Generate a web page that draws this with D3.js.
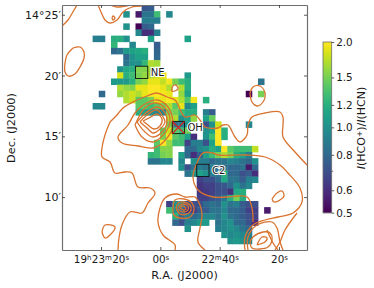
<!DOCTYPE html>
<html lang="en">
<head>
<meta charset="UTF-8">
<title>HCO+/HCN ratio map</title>
<script src="https://d3js.org/d3.v7.min.js"></script>
<style>
  body { margin: 0; background: #fff; }
  text { font-family: "DejaVu Sans", sans-serif; fill: #1a1a1a; }
</style>
</head>
<body>
<svg id="chart" width="374" height="288"></svg>
<script>
// ratio map: one entry per row of the 40x40 grid, first column then values
const cellRowStart = [13,10,13,10,12,5,8,8,10,10,9,9,8,9,6,10,5,12,17,17,16,16,15,15,14,14,19,20,22,22,22,22,17,17,18,18,20,26,27];
const cellRowValues = [
  [.72,.75],
  [1.0,null,.55,.85,.85,1.3,null,.95],
  [.9,.9,.9],
  [1.0,null,.5,.75,.8],
  [.95,.6,.6,.9],
  [.9,.9,null,1.2,1.2,1.0,null,null,null,1.1,null,null,null,null,null,1.1],
  [1.25,null,null,.95,null,null,null,.75],
  [.8,.85,1.05,1.1,1.15,1.2,null,.78],
  [.8,1.0,1.1,1.1,null,.8],
  [.85,1.0,1.0,1.25,1.7,1.65],
  [1.0,1.15,1.2,1.55,1.55,1.65],
  [1.85,1.2,1.3,1.5,1.6,1.7,1.8,1.9,null,null,null,1.05],
  [1.05,1.05,1.05,1.2,1.5,1.6,1.9,1.9,1.75,1.95,1.5,1.3,1.2,null,null,null,null,null,null,null,null,null,null,null,.85],
  [1.7,1.6,1.55,1.9,1.9,2,2,1.9,1.7,null,1.7,1.2],
  [.8,null,null,1.6,1.7,1.8,1.7,1.9,2,2,1.95,1.9,null,1.6,1.1,null,null,null,null,null,null,null,null,null,.5,null,1.5],
  [1.7,1.8,1.4,1.4,1.5,1.9,1.9,2,1.9,1.7,1.35,1.95,null,1.2],
  [.95,.95,null,null,null,null,null,1.4,1.4,1.3,1.4,1.5,1.7,1.4,1.9,.95,1.1],
  [1.2,1.1,1.0,.95,.95,1.5,1.5,1.3,1.2,1.2,null,.9,.75],
  [1.7,1.7,1.0,1.1,1.6,null,1.1,1.45],
  [1.5,.85,.9,1.0,null,null,.7,1.0,1.8,null,null,null,null,.95],
  [1.4,1.8,1.4,1.3,1.5,null,null,1.0,1.1,2.0,1.2],
  [1.5,2.0,1.4,1.3,1.1,.6,null,1.0,1.3,2.0,1.2],
  [1.4,2.0,1.6,1.3,1.3,.65,.9,.9,.7,1.1,2.0],
  [1.3,1.55,1.55,null,null,.8,.8,.95,1.0,1.2,1.1,2.0,1.4,1.3,1.3,1.3,1.75],
  [1.25,1.3,1.5,1.55,null,1.1,.8,.6,.75,1.1,1.3,1.5,1.7,1.5,1.2,1.1,.9],
  [.85,.85,.95,.95,null,.95,null,1.0,.9,.9,.8,.85,.85,.95,.9,.85,.8,1.0],
  [1.0,.7,.85,.9,.85,.9,.85,.85,.8,.8,.85,.55,.8],
  [.85,1.0,1.1,1.0,.9,.85,1.2,.8,.8,.7,.75,.6],
  [.65,.7,.7,.8,1.15,.85,.85,.75,.9,.95],
  [.62,.65,.65,.7,.72,.8,1.0,.85,.95],
  [.62,.63,.65,.7,.7,.6,1.15,1.2],
  [.65,.65,.7,.75,.85,1.2,1.5,1.2],
  [.65,1.0,1.0,.7,.7,.7,.8,.85,.8,1.0,.85,.9,.75,.7,.7],
  [1.3,1.0,.8,.6,.65,.75,.75,.85,.85,.95,.8,.8,.75,.65,.65,null,.55],
  [1.2,.8,.9,.8,.85,.95,.95,.85,1.0,.85,.8,.75,.7,.65],
  [.8,.7,.9,.95,1.05,1.05,null,.85,.95,1.0,.8,.8,.7,.6],
  [1.0,null,null,null,null,.9,.95,1.0,.95,.85,.8],
  [1.0,.95,1.0,.95,.9],
  [1.0,1.05,1.0,.95]
];
const cellRowIndex = [0,1,2,3,4,5,6,7,8,9,10,11,12,13,14,15,16,17,18,19,20,21,22,23,24,25,26,27,28,29,30,31,32,33,34,35,36,37,38];

// contours in map units (0-245 across and down the frame)
const contourOuter = [[48,117],[55,110],[61,103],[73,96],[85,91],[95,88],[105,92],[113,95],[123,112],[133,110],[138,115],[143,122],[156,123],[161,120],[166,120],[173,132],[178,137],[185,130],[186,120],[190,112],[203,108],[218,107],[221,112],[221,120],[221,132],[233,147],[245,160]];
const contourOuterLow = [[48,117],[43,130],[40,143],[40,152],[48,157],[53,168],[63,167],[70,168],[76,182],[88,183],[93,188],[86,198],[80,208],[68,207],[60,220],[57,233],[56,245]];
const contourMiddle = [[183,245],[183,232],[191,220],[203,215],[216,212],[231,208],[240,197],[238,183],[226,168],[218,160],[203,152],[183,150],[156,150],[151,148],[141,148],[135,158],[131,172],[136,185],[151,192],[165,192],[185,192],[190,203],[191,217]];
const contourLowLeft = [[113,245],[113,240],[101,230],[96,217],[98,203],[103,193],[115,189],[123,192],[133,192],[138,200],[140,210],[138,223],[136,237],[143,245]];
const contourRings = [
  [[81,100],[95,95],[106,102],[111,117],[110,125],[105,133],[98,140],[91,143],[76,141],[60,138],[56,132],[66,120],[73,108],[81,100]],
  [[73,120],[83,103],[95,98],[106,107],[108,117],[105,125],[98,133],[91,137],[80,132],[73,120]],
  [[75,117],[85,107],[95,102],[103,108],[105,117],[100,127],[91,132],[83,127],[75,117]],
  [[78,117],[85,110],[95,105],[101,112],[103,117],[98,124],[91,128],[85,123],[78,117]],
  [[81,116],[87,113],[95,109],[100,114],[98,121],[92,124],[86,120],[81,116]],
  [[111,203],[113,195],[122,194],[130,198],[132,205],[128,212],[118,213],[112,210],[111,203]],
  [[114,203],[116,198],[122,197],[128,200],[129,205],[125,209],[118,209],[114,203]],
  [[116,203],[118,200],[122,199],[126,201],[126,205],[122,207],[118,206],[116,203]],
  [[118,203],[120,201],[123,202],[124,204],[121,205],[118,203]],
  [[195,240],[200,232],[205,233],[203,237],[198,239],[195,240]],
  [[188,237],[191,232],[201,227],[208,228],[210,235],[206,242],[198,244],[190,243],[188,237]]
];
const contourIslands = [
  [[11,43],[18,42],[22,47],[22,53],[18,62],[13,69],[6,71],[3,67],[3,58],[5,50],[11,43]],
  [[40,227],[43,220],[53,222],[48,230],[43,233],[40,227]],
  [[110,83],[112,80],[115,81],[116,84],[113,86],[110,86],[110,83]],
  [[188,88],[191,82],[198,81],[203,88],[201,97],[195,101],[190,97],[188,88]],
  [[210,194],[215,188],[220,186],[222,191],[218,195],[212,197],[210,194]],
  [[50,13],[51,11],[53,13],[51,15],[50,13]]
];
const contourOpen = [
  [[0,21],[6,15],[12,5],[15,0]],
  [[36,0],[39,7],[43,15],[48,18],[55,15],[61,7],[70,2],[80,1]],
  [[48,0],[55,2],[68,0]],
  [[186,245],[186,232],[195,220],[210,217],[215,223],[218,237],[221,245]],
  [[205,225],[211,238],[216,245]],
  [[235,208],[223,225],[218,237],[213,245]]
];

const raTicks = [80, 60, 40, 20];
const raTickParts = [[["19","h"],["23","m"],["20","s"]], [["00","s"]], [["22","m"],["40","s"]], [["20","s"]]];
const decTicks = [25, 20, 15, 10];
const decTickLabels = ["14°25′", "20′", "15′", "10′"];
const barTicks = [2.0, 1.5, 1.2, 1.0, 0.8, 0.6, 0.5];
const barMinorTicks = [0.7];

const regionNames = ["NE", "OH", "C2"];
const regionCols = [12, 18, 22];
const regionRows = [10, 19, 26];

const frame = { left: 62, right: 307, top: 5, bottom: 250 };
const svg = d3.select("#chart");

const colScale = d3.scaleBand().domain(d3.range(40)).range([frame.left, frame.right]);
const rowScale = d3.scaleBand().domain(d3.range(40)).range([frame.top, frame.bottom]);
const mapX = d3.scaleLinear().domain([0, 245]).range([frame.left, frame.right]);
const mapY = d3.scaleLinear().domain([0, 245]).range([frame.top, frame.bottom]);
const raScale = d3.scaleLinear().domain([93.15, 10.56]).range([frame.left, frame.right]);
const decScale = d3.scaleLinear().domain([25.8, 5.65]).range([frame.top, frame.bottom]);
const barScale = d3.scaleLog().domain([0.5, 2]).range([212.7, 42]);
const norm = d3.scaleLog().domain([0.5, 2]).range([0, 1]).clamp(true);
const colour = v => d3.interpolateViridis(norm(v));

// flatten rows to cells
const cells = [];
cellRowIndex.forEach((r, i) => {
  cellRowValues[i].forEach((v, k) => {
    if (v !== null) cells.push({ row: r, col: cellRowStart[i] + k, value: v });
  });
});

svg.append("defs").append("clipPath").attr("id", "plot")
  .append("rect")
  .attr("x", frame.left).attr("y", frame.top)
  .attr("width", frame.right - frame.left).attr("height", frame.bottom - frame.top);

svg.append("g").selectAll("rect")
  .data(cells)
  .enter().append("rect")
  .attr("x", d => colScale(d.col))
  .attr("y", d => rowScale(d.row))
  .attr("width", colScale.bandwidth() + 0.4)
  .attr("height", rowScale.bandwidth() + 0.4)
  .attr("fill", d => colour(d.value));

const line = d3.line().x(d => mapX(d[0])).y(d => mapY(d[1])).curve(d3.curveCatmullRom.alpha(0.5));
const allContours = [contourOuter, contourOuterLow, contourMiddle, contourLowLeft]
  .concat(contourRings, contourIslands, contourOpen);

svg.append("g").attr("clip-path", "url(#plot)").selectAll("path")
  .data(allContours)
  .enter().append("path")
  .attr("d", line)
  .attr("fill", "none")
  .attr("stroke", "#d9732f")
  .attr("stroke-width", 1.3);

// region boxes
const regions = regionNames.map((name, i) => ({ name, col: regionCols[i], row: regionRows[i] }));
const boxW = colScale.bandwidth() * 2, boxH = rowScale.bandwidth() * 2;
const regionG = svg.append("g");

regionG.selectAll("rect")
  .data(regions)
  .enter().append("rect")
  .attr("x", d => colScale(d.col))
  .attr("y", d => rowScale(d.row))
  .attr("width", boxW)
  .attr("height", boxH)
  .attr("fill", "none")
  .attr("stroke", "#111")
  .attr("stroke-width", 0.9);

// red cross on OH
const oh = regions[1];
regionG.append("path")
  .attr("d", `M${colScale(oh.col)},${rowScale(oh.row)}l${boxW},${boxH}M${colScale(oh.col) + boxW},${rowScale(oh.row)}l${-boxW},${boxH}`)
  .attr("stroke", "#e8161c")
  .attr("stroke-width", 1.2)
  .attr("fill", "none");

regionG.selectAll("text")
  .data(regions)
  .enter().append("text")
  .attr("x", d => colScale(d.col) + boxW + 3)
  .attr("y", d => rowScale(d.row) + boxH / 2 + 3.5)
  .attr("font-size", 10)
  .attr("paint-order", "stroke")
  .attr("stroke", "#fff")
  .attr("stroke-width", 2)
  .text(d => d.name);

// axes, ticks point inward
function styleAxis(g) {
  g.selectAll("path").attr("stroke", "#6e6e6e").attr("stroke-width", 1.2);
  g.selectAll("line").attr("stroke", "#333").attr("stroke-width", 0.8);
  g.selectAll("text").attr("font-size", 10.4);
}

const bottomAxis = svg.append("g")
  .attr("transform", `translate(0,${frame.bottom})`)
  .call(d3.axisBottom(raScale).tickValues(raTicks).tickSizeOuter(0).tickSizeInner(-3).tickFormat(""))
  .call(styleAxis);

bottomAxis.selectAll(".tick text")
  .each(function (d, i) {
    const t = d3.select(this).text(null).attr("y", 6);
    raTickParts[i].forEach(p => {
      t.append("tspan").text(p[0]);
      t.append("tspan").attr("font-size", 7).attr("dy", -3.5).text(p[1]);
      t.append("tspan").attr("font-size", 1).attr("dy", 3.5).text(" ");
    });
  });

svg.append("g")
  .attr("transform", `translate(0,${frame.top})`)
  .call(d3.axisTop(raScale).tickValues(raTicks).tickSizeOuter(0).tickSizeInner(-3).tickFormat(""))
  .call(styleAxis);

svg.append("g")
  .attr("transform", `translate(${frame.left},0)`)
  .call(d3.axisLeft(decScale).tickValues(decTicks).tickSizeOuter(0).tickSizeInner(-3).tickPadding(1)
    .tickFormat((d, i) => decTickLabels[i]))
  .call(styleAxis)
  .call(g => g.selectAll("text").attr("font-size", 11));

svg.append("g")
  .attr("transform", `translate(${frame.right},0)`)
  .call(d3.axisRight(decScale).tickValues(decTicks).tickSizeOuter(0).tickSizeInner(-3).tickFormat(""))
  .call(styleAxis);

svg.append("text")
  .attr("x", (frame.left + frame.right) / 2)
  .attr("y", 279)
  .attr("text-anchor", "middle")
  .attr("font-size", 11.3)
  .text("R.A. (J2000)");

svg.append("text")
  .attr("transform", "translate(14.5,128) rotate(-90)")
  .attr("text-anchor", "middle")
  .attr("font-size", 11.3)
  .text("Dec. (J2000)");

// colour bar
const barX = 323, barW = 8.7;
const barStops = d3.range(0, 171);
svg.append("g").selectAll("rect")
  .data(barStops)
  .enter().append("rect")
  .attr("x", barX)
  .attr("y", d => 42 + d)
  .attr("width", barW)
  .attr("height", 1.2)
  .attr("fill", d => colour(barScale.invert(42 + d + 0.5)));

svg.append("rect")
  .attr("x", barX).attr("y", 42)
  .attr("width", barW).attr("height", 170.7)
  .attr("fill", "none").attr("stroke", "#6e6e6e").attr("stroke-width", 0.8);

const barG = svg.append("g").attr("transform", `translate(${barX + barW},0)`);
barG.call(d3.axisRight(barScale).tickValues(barTicks).tickSize(2.5).tickPadding(2).tickFormat(d3.format(".1f")))
  .call(styleAxis);
barG.select("path").remove();

barG.selectAll(".minor")
  .data(barMinorTicks)
  .enter().append("line")
  .attr("class", "minor")
  .attr("x1", 0).attr("x2", 1.5)
  .attr("y1", d => barScale(d)).attr("y2", d => barScale(d))
  .attr("stroke", "#333").attr("stroke-width", 0.7);

const barLabel = svg.append("text")
  .attr("transform", "translate(365,128) rotate(-90)")
  .attr("text-anchor", "middle")
  .attr("font-size", 11);
barLabel.append("tspan").attr("font-style", "italic").text("I");
barLabel.append("tspan").text("(HCO");
barLabel.append("tspan").attr("font-size", 7.5).attr("dy", -3.5).text("+");
barLabel.append("tspan").attr("dy", 3.5).text(")/");
barLabel.append("tspan").attr("font-style", "italic").text("I");
barLabel.append("tspan").text("(HCN)");
</script>
</body>
</html>
